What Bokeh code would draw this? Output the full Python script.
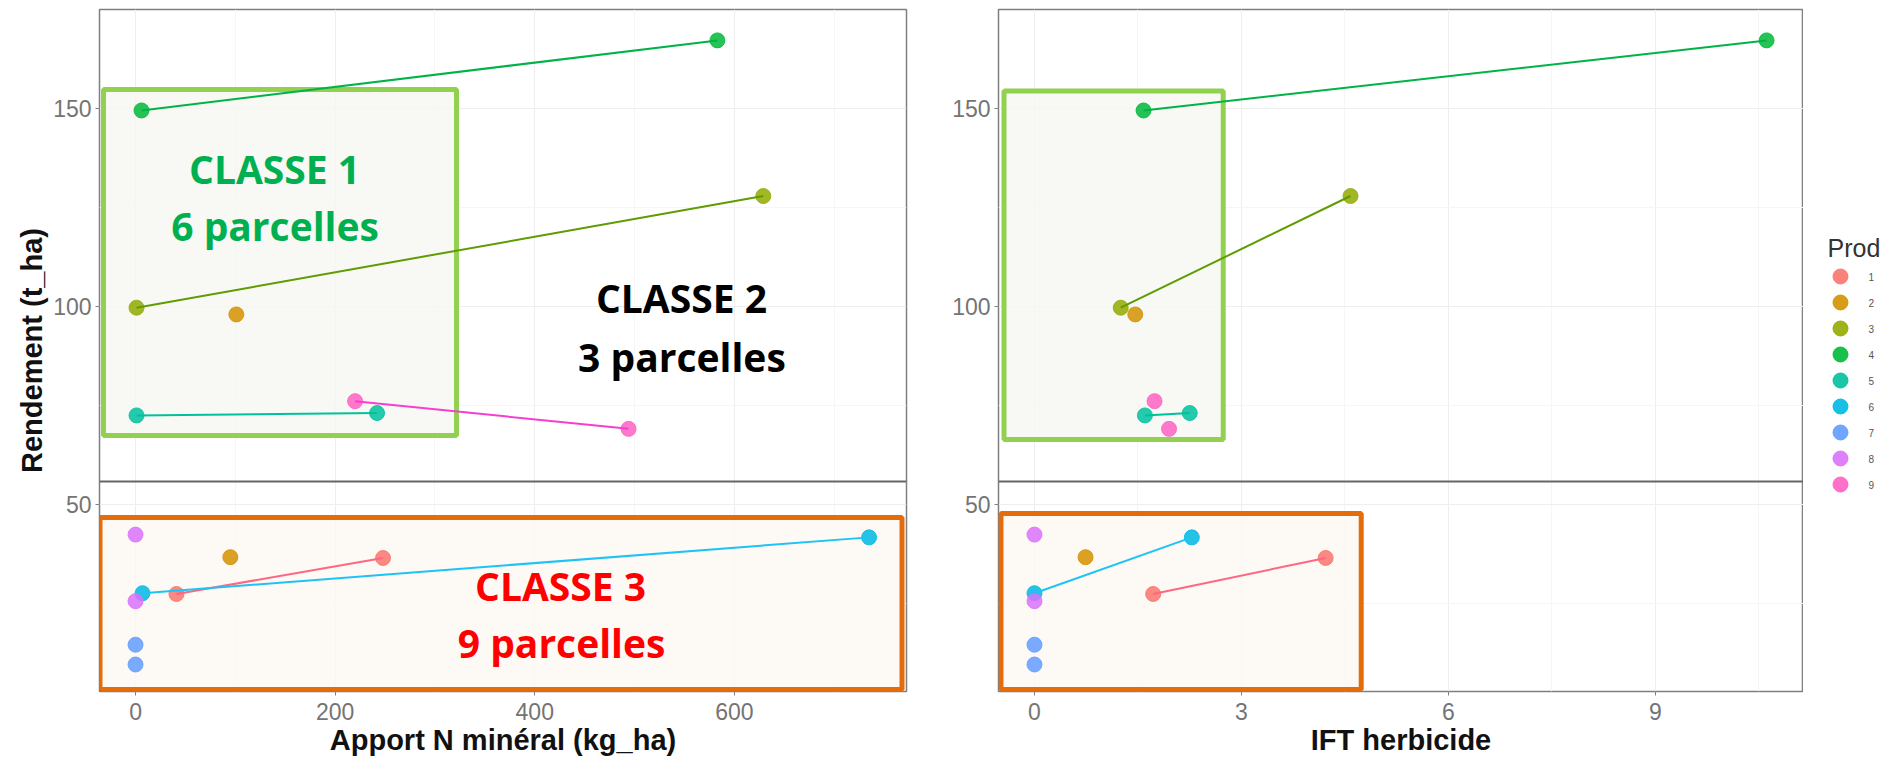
from bokeh.plotting import figure
from bokeh.layouts import row
from bokeh.models import Range1d, FixedTicker, BoxAnnotation, Label, Span
from bokeh.embed import file_html
from bokeh.resources import INLINE

# ---------------- data ----------------
prod      = [1, 1, 2, 2, 3, 3, 4, 4, 5, 5, 6, 6, 7, 7, 8, 8, 9, 9]
apport_n  = [41, 248, 101, 95, 1, 629, 6, 583, 1, 242, 7, 735, 0, 0, 0, 0, 220, 494]
ift_herb  = [1.72, 4.22, 1.46, 0.74, 1.25, 4.58, 1.58, 10.61, 1.60, 2.25, 0.0, 2.28, 0.0, 0.0, 0.0, 0.0, 1.74, 1.95]
rendement = [27.4, 36.5, 98.0, 36.7, 99.7, 127.9, 149.5, 167.2, 72.5, 73.1, 27.6, 41.7, 14.6, 9.6, 42.4, 25.6, 76.1, 69.1]

prod_levels = [1, 2, 3, 4, 5, 6, 7, 8, 9]
prod_colors = ["#F8766D", "#D39200", "#93AA00", "#00BA38", "#00C19F",
               "#00B9E3", "#619CFF", "#DB72FB", "#FF61C3"]
line_colors = {1: "#FF6680", 3: "#5E9C00", 4: "#00B347", 5: "#00C29A",
               6: "#1EC3F5", 9: "#F63FD0"}
lines_left = [1, 3, 4, 5, 6, 9]
lines_right = [1, 3, 4, 5, 6]

x_ticks_left = [0, 200, 400, 600]
x_minor_left = [-100, 100, 300, 500, 700]
x_ticks_right = [0, 3, 6, 9]
x_minor_right = [-1.5, 1.5, 4.5, 7.5, 10.5]
y_ticks = [50, 100, 150]
y_minor = [25, 75, 125, 175]

TICK_FONT = "Liberation Sans"
ANN_FONT = "Open Sans"

Y_RANGE = (2.78, 175.0)
BREAK_Y = 55.8


def base_fig(xr, xt, xm, left_border, right_border, frame_w, xlabel, ylabel):
    p = figure(output_backend="svg", toolbar_location=None,
               frame_width=frame_w, frame_height=682,
               min_border_left=left_border, min_border_right=right_border,
               min_border_top=9, min_border_bottom=0,
               x_range=Range1d(*xr), y_range=Range1d(*Y_RANGE))
    p.background_fill_color = "white"
    p.border_fill_color = "white"
    p.outline_line_color = "#7f7f7f"
    p.outline_line_width = 1.5
    p.xaxis.ticker = FixedTicker(ticks=xt, minor_ticks=xm)
    p.yaxis.ticker = FixedTicker(ticks=y_ticks, minor_ticks=y_minor)
    for ax in (p.xaxis[0], p.yaxis[0]):
        ax.axis_line_color = None
        ax.major_tick_line_color = "#7f7f7f"
        ax.major_tick_out = 4
        ax.major_tick_in = 0
        ax.minor_tick_line_color = None
        ax.major_label_text_font = TICK_FONT
        ax.major_label_text_font_size = "23px"
        ax.major_label_text_color = "#747474"
        ax.major_label_standoff = 4
        ax.axis_label_text_font = TICK_FONT
        ax.axis_label_text_font_size = "29px"
        ax.axis_label_text_font_style = "bold"
        ax.axis_label_text_color = "#111111"
        ax.axis_label_standoff = 2
    p.xaxis.major_label_standoff = 7
    p.xaxis.axis_label_standoff = 1
    p.xaxis.axis_label = xlabel
    if ylabel:
        p.yaxis.axis_label = ylabel
    for g in (p.xgrid[0], p.ygrid[0]):
        g.grid_line_color = "#EEEEEE"
        g.grid_line_width = 1
        g.minor_grid_line_color = "#F6F6F6"
        g.minor_grid_line_width = 1
    p.add_layout(Span(location=BREAK_Y, dimension="width",
                      line_color="#666666", line_width=2))
    return p


def draw_data(p, xs, line_prods):
    for lev, col in zip(prod_levels, prod_colors):
        idx = [i for i, v in enumerate(prod) if v == lev]
        p.scatter([xs[i] for i in idx], [rendement[i] for i in idx],
                  size=15, fill_color=col, line_color=col, fill_alpha=0.85,
                  line_alpha=0.85)
    for lev in line_prods:
        idx = [i for i, v in enumerate(prod) if v == lev]
        p.line([xs[i] for i in idx], [rendement[i] for i in idx],
               line_color=line_colors[lev], line_width=2)


def box(p, l, r, t, b, color, fill):
    p.add_layout(BoxAnnotation(left=l, right=r, top=t, bottom=b,
                               line_color=color, line_width=5, line_alpha=1.0,
                               fill_color=fill, fill_alpha=0.8,
                               level="underlay"))


def label(p, x, y, txt, color):
    p.add_layout(Label(x=x, y=y, text=txt, text_align="center",
                       text_baseline="alphabetic", text_font=ANN_FONT,
                       text_font_size="39px", text_font_style="bold",
                       text_color=color))


# ---------------- left panel ----------------
p1 = base_fig((-36.1, 772.5), x_ticks_left, x_minor_left, 99, 24, 807,
              "Apport N minéral (kg_ha)", "Rendement (t_ha)")
box(p1, -32.1, 321.6, 154.8, 67.4, "#92D050", "#F6F8F1")
box(p1, -35.6, 768.0, 46.7, 3.3, "#E46C0A", "#FDF7F3")
draw_data(p1, apport_n, lines_left)
label(p1, 139.3, 134.9, "CLASSE 1", "#00B050")
label(p1, 139.8, 120.4, "6 parcelles", "#00B050")
label(p1, 547.0, 102.2, "CLASSE 2", "#000000")
label(p1, 547.5, 87.3, "3 parcelles", "#000000")
label(p1, 425.9, 29.6, "CLASSE 3", "#FF0000")
label(p1, 426.9, 15.2, "9 parcelles", "#FF0000")

# ---------------- right panel ----------------
p2 = base_fig((-0.5217, 11.145), x_ticks_right, x_minor_right, 68, 0, 805,
              "IFT herbicide", None)
box(p2, -0.442, 2.735, 154.4, 66.4, "#92D050", "#F6F8F1")
box(p2, -0.486, 4.735, 47.7, 3.3, "#E46C0A", "#FDF7F3")
draw_data(p2, ift_herb, lines_right)

# ---------------- legend (own small figure) ----------------
LH = 740
LW = 84
leg = figure(output_backend="svg", toolbar_location=None,
             frame_width=LW, frame_height=LH,
             min_border_left=0, min_border_right=0,
             min_border_top=0, min_border_bottom=0,
             x_range=Range1d(0, LW), y_range=Range1d(LH, 0),
             x_axis_type=None, y_axis_type=None)
leg.outline_line_color = None
leg.xgrid.visible = False
leg.ygrid.visible = False
leg.border_fill_color = "white"
ly = [267 + 26 * i for i in range(len(prod_levels))]
leg.scatter([37] * len(prod_levels), ly, size=15, fill_color=prod_colors,
            line_color=prod_colors, fill_alpha=0.9, line_alpha=0.9)
leg.text([65] * len(prod_levels), ly, text=[str(v) for v in prod_levels],
         text_font_size="10px", text_color="#555555",
         text_baseline="middle", text_align="left")
leg.add_layout(Label(x=24, y=238, text="Prod", text_font=TICK_FONT,
                     text_font_size="25px", text_color="#333333",
                     text_baseline="alphabetic", text_align="left"))

layout = row(p1, p2, leg, spacing=0)
open("out.html", "w").write(file_html(layout, INLINE))
